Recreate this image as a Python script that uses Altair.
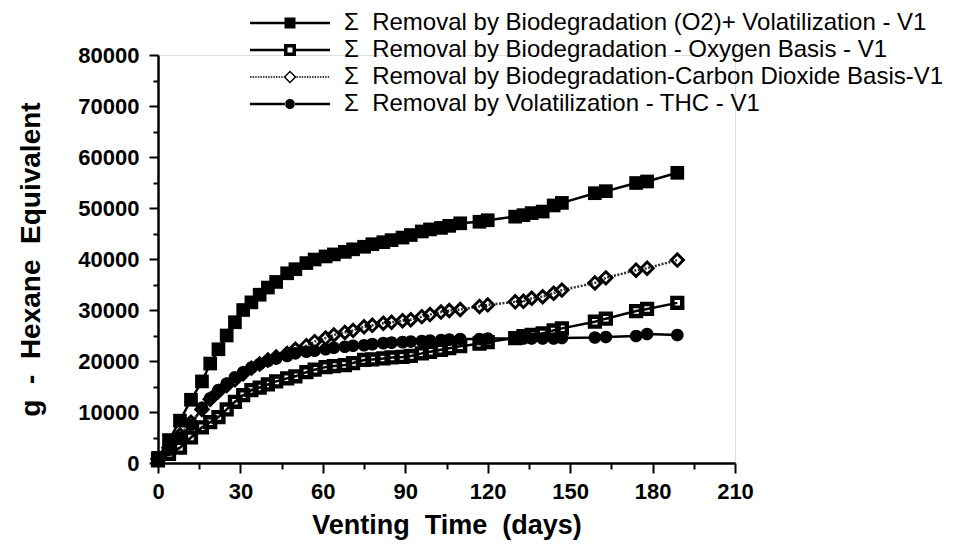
import altair as alt
import pandas as pd

FONT = "Liberation Sans"

DAYS = [0, 4, 8, 12, 16, 19, 22, 25, 28, 31, 34, 37, 40, 43, 47, 50, 54, 57, 61, 64,
        68, 71, 75, 78, 82, 85, 89, 92, 96, 99, 103, 106, 110, 117, 120, 130, 133, 136,
        140, 144, 147, 159, 163, 174, 178, 189]

BIO_O2_PLUS_VOL = [1000, 4500, 8300, 12400, 16000, 19500, 22300, 25000, 27600, 30000,
                   31500, 33000, 34400, 35500, 37200, 38000, 39200, 39900, 40500, 40900,
                   41400, 41900, 42400, 42900, 43300, 43700, 44200, 44700, 45400, 45800,
                   46100, 46500, 47000, 47300, 47600, 48300, 48600, 49000, 49300, 50500,
                   51000, 52900, 53300, 54900, 55200, 56900]

BIO_O2 = [500, 1800, 3000, 5000, 7000, 8000, 9000, 10500, 12000, 13300,
          14300, 14800, 15400, 16000, 16600, 17000, 17800, 18300, 18800, 19000,
          19200, 19600, 20200, 20300, 20500, 20700, 20800, 21000, 21500, 21800,
          22200, 22500, 22900, 23400, 23700, 24500, 24900, 25100, 25400, 26000,
          26400, 27700, 28300, 29800, 30200, 31400]

BIO_CO2 = [800, 3000, 5500, 8000, 10500, 12500, 14000, 15200, 16300, 17500,
           18600, 19400, 20200, 20800, 21500, 22300, 23000, 23800, 24500, 25100,
           25600, 26000, 26700, 27000, 27400, 27600, 27900, 28100, 28700, 29100,
           29600, 29900, 30100, 30700, 31000, 31600, 31700, 32300, 32600, 33300,
           33900, 35300, 36300, 37800, 38200, 39800]

VOL_THC = [600, 2600, 5000, 7500, 10800, 12700, 14300, 15600, 16800, 17800,
           18700, 19400, 20000, 20500, 21000, 21500, 21800, 22000, 22300, 22600,
           22800, 23000, 23100, 23300, 23500, 23600, 23700, 23800, 23900, 24000,
           24100, 24200, 24300, 24300, 24400, 24400, 24400, 24400, 24400, 24400,
           24500, 24600, 24700, 24900, 25300, 25100]

SERIES = [
    "Removal by Biodegradation (O2)+ Volatilization - V1",
    "Removal by Biodegradation - Oxygen Basis - V1",
    "Removal by Biodegradation-Carbon Dioxide Basis-V1",
    "Removal by Volatilization - THC - V1",
]
VALUES = [BIO_O2_PLUS_VOL, BIO_O2, BIO_CO2, VOL_THC]

X_TICKS = [0, 30, 60, 90, 120, 150, 180, 210]
X_MINOR = [15, 45, 75, 105, 135, 165, 195]
Y_TICKS = [0, 10000, 20000, 30000, 40000, 50000, 60000, 70000, 80000]
Y_MINOR = [5000, 15000, 25000, 35000, 45000, 55000, 65000, 75000]

rows = []
for name, vals in zip(SERIES, VALUES):
    for d, v in zip(DAYS, vals):
        rows.append({"day": d, "value": v, "series": name})
df = pd.DataFrame(rows)

# marker shapes (unit paths), holes made with reversed inner contours
MARK_PATHS = [
    "M-1.25,-1.25H1.25V1.25H-1.25Z",
    "M-1.3,-1.3H1.3V1.3H-1.3ZM-0.5,-0.5V0.5H0.5V-0.5Z",
    "M-1.5,0L0,-1.5L1.5,0L0,1.5ZM-0.75,0L0,0.75L0.75,0L0,-0.75Z",
    "M-1.15,0A1.15,1.15,0,1,0,1.15,0A1.15,1.15,0,1,0,-1.15,0Z",
]


def bar(x0, x1, h):
    return "M%.2f,%.2fH%.2fV%.2fH%.2fZ" % (x0, -h, x1, h, x0)


def dashes(x0, x1, h, dash=0.3, gap=0.22):
    out = []
    x = x0
    while x < x1:
        out.append(bar(x, min(x + dash, x1), h))
        x += dash + gap
    return "".join(out)


H = 0.26  # half thickness of legend line (units)
LEG_PATHS = [
    bar(-8, -1.1, H) + bar(1.1, 8, H) + "M-1.1,-1.1H1.1V1.1H-1.1Z",
    bar(-8, -1.2, H) + bar(1.2, 8, H) + "M-1.2,-1.2H1.2V1.2H-1.2ZM-0.5,-0.5V0.5H0.5V-0.5Z",
    dashes(-8, -1.3, 0.16) + dashes(1.3, 8, 0.16)
    + "M-1.3,0L0,-1.3L1.3,0L0,1.3ZM-0.9,0L0,0.9L0.9,0L0,-0.9Z",
    bar(-8, -0.9, H) + bar(0.9, 8, H) + "M-1.0,0A1.0,1.0,0,1,0,1.0,0A1.0,1.0,0,1,0,-1.0,0Z",
]

x_scale = alt.Scale(domain=[0, 210], nice=False, zero=False)
y_scale = alt.Scale(domain=[0, 80000], nice=False)

x_axis = alt.Axis(
    values=X_TICKS, format="d", orient="bottom", grid=False,
    labelFont=FONT, labelFontSize=22, labelFontWeight="bold", labelColor="black",
    labelPadding=8, labelFlush=False, labelOverlap=False,
    tickSize=10, tickWidth=2, tickColor="black",
    domainColor="black", domainWidth=2.5,
    title="Venting\u00a0\u00a0Time\u00a0\u00a0(days)", titleFont=FONT, titleFontSize=27,
    titleFontWeight="bold", titleColor="black", titlePadding=10,
)
y_axis = alt.Axis(
    values=Y_TICKS, format="d", orient="left", grid=False,
    labelFont=FONT, labelFontSize=22, labelFontWeight="bold", labelColor="black",
    labelPadding=10, labelFlush=False, labelOverlap=False,
    tickSize=9, tickWidth=2, tickColor="black",
    domainColor="black", domainWidth=2.5,
    title="g\u00a0\u00a0-\u00a0\u00a0Hexane\u00a0\u00a0Equivalent", titleFont=FONT,
    titleFontSize=28, titleFontWeight="bold", titleColor="black", titlePadding=32,
)
x_minor = alt.Axis(values=X_MINOR, orient="bottom", labels=False, domain=False, grid=False,
                   tickSize=6, tickWidth=2, tickColor="black", title=None)
y_minor = alt.Axis(values=Y_MINOR, orient="left", labels=False, domain=False, grid=False,
                   tickSize=5, tickWidth=2, tickColor="black", title=None)

base = alt.Chart(df)

solid = base.transform_filter(
    alt.FieldOneOfPredicate(field="series", oneOf=[SERIES[0], SERIES[1], SERIES[3]])
).mark_line(color="black", strokeWidth=2.5).encode(
    x=alt.X("day:Q", scale=x_scale, axis=x_axis),
    y=alt.Y("value:Q", scale=y_scale, axis=y_axis),
    detail="series:N",
)

dotted = base.transform_filter(
    alt.FieldEqualPredicate(field="series", equal=SERIES[2])
).mark_line(color="#333333", strokeWidth=2.5, strokeDash=[2, 1.5]).encode(
    x=alt.X("day:Q", scale=x_scale, axis=None),
    y=alt.Y("value:Q", scale=y_scale, axis=None),
)

points = base.mark_point(filled=True, color="black", opacity=1, size=120, strokeWidth=0).encode(
    x=alt.X("day:Q", scale=x_scale, axis=None),
    y=alt.Y("value:Q", scale=y_scale, axis=None),
    shape=alt.Shape("series:N", scale=alt.Scale(domain=SERIES, range=MARK_PATHS), legend=None),
)

legend = alt.Legend(
    title=None, orient="none", legendX=120, legendY=-44, padding=0,
    direction="vertical", columns=1,
    labelFont=FONT, labelFontSize=24, labelColor="black", labelLimit=0,
    labelOffset=42, rowPadding=3, symbolSize=100, symbolStrokeWidth=0,
    symbolFillColor="black", symbolOpacity=1,
    labelExpr="'\u03a3\u00a0\u00a0' + datum.label",
)

legend_layer = base.transform_filter("datum.day < 0").mark_point(
    filled=True, color="black", opacity=1, size=100
).encode(
    x=alt.X("day:Q", scale=x_scale, axis=None),
    y=alt.Y("value:Q", scale=y_scale, axis=None),
    shape=alt.Shape("series:N", scale=alt.Scale(domain=SERIES, range=LEG_PATHS), legend=legend),
)

minor = base.mark_point(opacity=0).encode(
    x=alt.X("day:Q", scale=x_scale, axis=x_minor),
    y=alt.Y("value:Q", scale=y_scale, axis=y_minor),
)

chart = alt.layer(solid, dotted, points, legend_layer, minor).resolve_axis(
    x="independent", y="independent"
).resolve_scale(shape="independent").properties(
    width=577, height=408,
    autosize=alt.AutoSizeParams(type="none"),
    padding={"left": 150, "top": 47, "right": 215, "bottom": 87},
).configure_view(stroke=None).configure(background="white")

chart.save("out.html", embed_options={"renderer": "svg", "actions": False})
